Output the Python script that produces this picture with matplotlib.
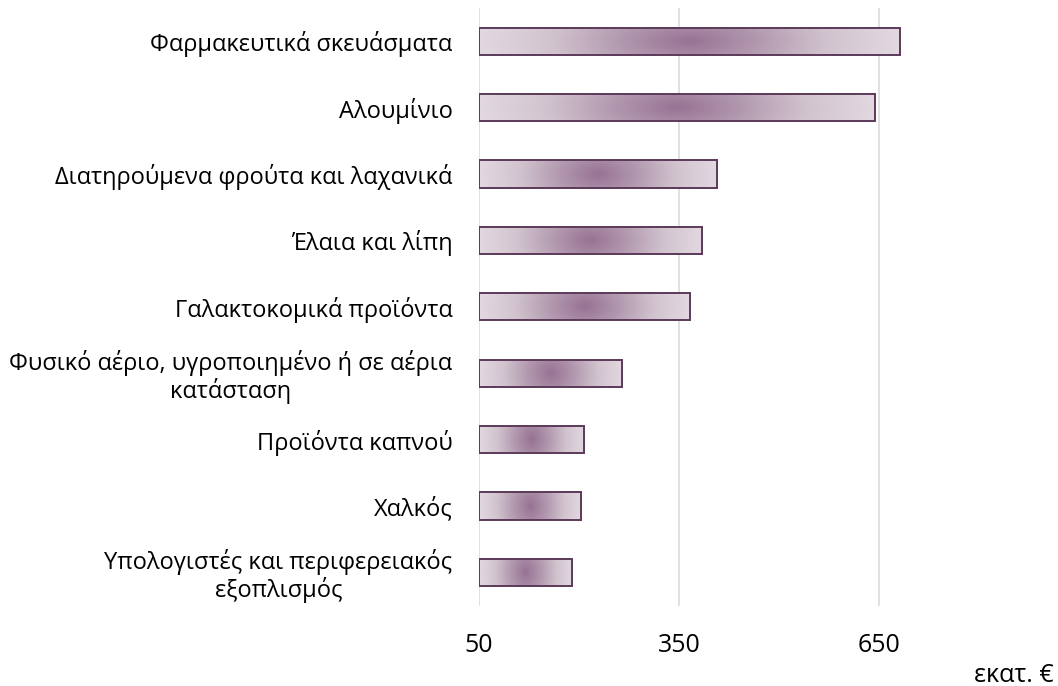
import numpy as np
import matplotlib.pyplot as plt
from matplotlib.colors import LinearSegmentedColormap

plt.rcParams['font.family'] = ['Open Sans', 'DejaVu Sans']

categories = [
    'Φαρμακευτικά σκευάσματα',
    'Αλουμίνιο',
    'Διατηρούμενα φρούτα και λαχανικά',
    'Έλαια και λίπη',
    'Γαλακτοκομικά προϊόντα',
    'Φυσικό αέριο, υγροποιημένο ή σε αέρια\nκατάσταση',
    'Προϊόντα καπνού',
    'Χαλκός',
    'Υπολογιστές και περιφερειακός\nεξοπλισμός',
]
values = [681, 644, 407, 385, 367, 265, 208, 203, 190]
ticks = [50, 350, 650]

cmap = LinearSegmentedColormap.from_list('bar', ['#987394', '#b39ab0', '#d2c4cf', '#e2d8e0'])

fig = plt.figure(figsize=(10.58, 6.86), dpi=100)
ax = fig.add_axes([0.4527, 0.1172, 0.4916, 0.8711])

y = np.arange(len(categories))
bars = ax.barh(y, np.array(values) - 50, left=50, height=0.41,
               facecolor='none', edgecolor='#5b3a59', linewidth=1.4, zorder=3)

ax.set_xlim(50, 830)
ax.set_ylim(len(categories) - 0.5, -0.5)

# gradient fill, darkest in the middle of each bar
gx = np.linspace(-1, 1, 300)
gy = np.linspace(-1, 1, 40)
GX, GY = np.meshgrid(gx, gy)
grad = np.clip(np.sqrt(GX ** 2 + (0.2 * GY) ** 2), 0, 1)
for b in bars:
    x0, y0 = b.get_x(), b.get_y()
    w, h = b.get_width(), b.get_height()
    im = ax.imshow(grad, cmap=cmap, extent=(x0, x0 + w, y0 + h, y0),
                   aspect='auto', interpolation='bilinear', zorder=2)
    im.set_clip_path(b)

ax.set_xticks(ticks)
ax.set_xticklabels([str(t) for t in ticks])
ax.set_yticks(y)
ax.set_yticklabels(categories, multialignment='center', linespacing=1.1)
ax.grid(axis='x', color='#d9d9d9', linewidth=1.1, zorder=0)
ax.set_axisbelow(True)
for s in ax.spines.values():
    s.set_visible(False)
ax.tick_params(axis='both', length=0, colors='#000000')
ax.tick_params(axis='x', pad=20, labelsize=18)
ax.tick_params(axis='y', pad=19, labelsize=17)

fig.text(0.996, 0.006, 'εκατ. €', ha='right', va='baseline', fontsize=18)

fig.savefig('out.png', dpi=100)
